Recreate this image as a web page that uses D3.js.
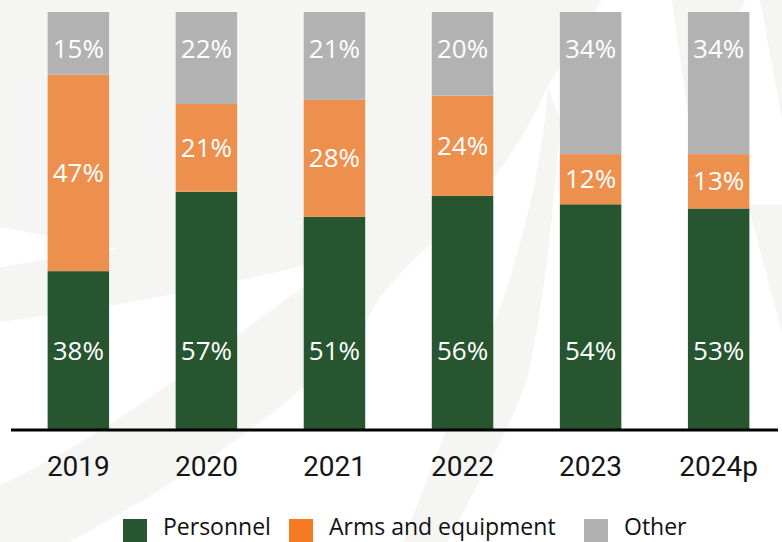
<!DOCTYPE html>
<html>
<head>
<meta charset="utf-8">
<script src="https://cdn.jsdelivr.net/npm/d3@7/dist/d3.min.js"></script>
<style>
  html, body { margin: 0; padding: 0; background: #ffffff; }
  svg { display: block; }
</style>
</head>
<body>
<svg id="chart" width="782" height="542"></svg>
<script>
// ---- data ----
const years = ["2019", "2020", "2021", "2022", "2023", "2024p"];
const personnel = [38, 57, 51, 56, 54, 53];
const armsEquipment = [47, 21, 28, 24, 12, 13];
const other = [15, 22, 21, 20, 34, 34];
const seriesNames = ["Personnel", "Arms and equipment", "Other"];

// ---- layout / style ----
const W = 782, H = 542;
const colors = { "Personnel": "#26552f", "Arms and equipment": "#ed8f4d", "Other": "#b1b2b1" };
const legendColors = { "Personnel": "#26552f", "Arms and equipment": "#f47b22", "Other": "#b1b1b1" };
const svg = d3.select("#chart");

// faint watermark background
const wm = svg.append("g").attr("fill", "#f5f6f4");
wm.append("path").attr("d",
  "M0,0 H602 L548,86 C520,150 480,200 443,233 C410,262 392,282 378,300 " +
  "C345,370 220,460 70,542 H0 V485 C120,430 240,330 352,252 " +
  "C250,282 130,305 0,322 V267 L118,249 L0,227 Z");
wm.append("path").attr("d",
  "M403,542 L447,542 C480,480 510,430 527,380 C545,300 555,200 560,120 L548,86 C540,200 500,330 450,420 Z");
wm.append("path").attr("d", "M672,0 H745 L690,130 Z");
wm.append("path").attr("d", "M760,0 H782 V120 Z");
wm.append("path").attr("d", "M748,205 L782,205 V333 Z");

// scales
const x = d3.scaleBand().domain(years).range([22, 775]).paddingInner(0.52).paddingOuter(0.2);
const y = d3.scaleLinear().domain([0, 100]).range([430, 12]);

const table = years.map((yr, i) => ({
  year: yr,
  "Personnel": personnel[i],
  "Arms and equipment": armsEquipment[i],
  "Other": other[i]
}));
const stacked = d3.stack().keys(seriesNames)(table);

const gBars = svg.append("g");
stacked.forEach(series => {
  const key = series.key;
  gBars.selectAll(null).data(series).join("rect")
    .attr("x", d => x(d.data.year))
    .attr("width", x.bandwidth())
    .attr("y", d => y(d[1]))
    .attr("height", d => y(d[0]) - y(d[1]))
    .attr("fill", colors[key]);
});

// labels
const labelFont = "'Open Sans', 'Noto Sans', sans-serif";
stacked.forEach(series => {
  const key = series.key;
  svg.append("g").selectAll(null).data(series).join("text")
    .attr("x", d => x(d.data.year) + x.bandwidth() / 2)
    .attr("y", d => {
      if (key === "Personnel") return y(0) - 70;
      if (key === "Other") return y(d[1]) + 46;
      return (y(d[0]) + y(d[1])) / 2 + 9;
    })
    .attr("text-anchor", "middle")
    .attr("font-family", labelFont)
    .attr("font-size", 26)
    .attr("fill", "#ffffff")
    .text(d => d.data[key] + "%");
});

// x axis
const axis = svg.append("g")
  .attr("transform", `translate(0,${y(0)})`)
  .call(d3.axisBottom(x).tickSize(0).tickPadding(26));
axis.select(".domain").remove();
axis.selectAll("text")
  .attr("font-family", "Roboto, sans-serif")
  .attr("font-size", 28)
  .attr("fill", "#141414")
  .attr("dy", "0.71em");
svg.append("line")
  .attr("x1", 11).attr("x2", 778)
  .attr("y1", y(0)).attr("y2", y(0))
  .attr("stroke", "#000000").attr("stroke-width", 3);

// legend
const legendX = [123, 289, 584];
const lg = svg.append("g");
seriesNames.forEach((name, i) => {
  lg.append("rect")
    .attr("x", legendX[i]).attr("y", 519)
    .attr("width", 24).attr("height", 24)
    .attr("fill", legendColors[name]);
  lg.append("text")
    .attr("x", legendX[i] + 40).attr("y", 535)
    .attr("font-family", labelFont)
    .attr("font-size", 23)
    .attr("fill", "#111111")
    .text(name);
});
</script>
</body>
</html>
